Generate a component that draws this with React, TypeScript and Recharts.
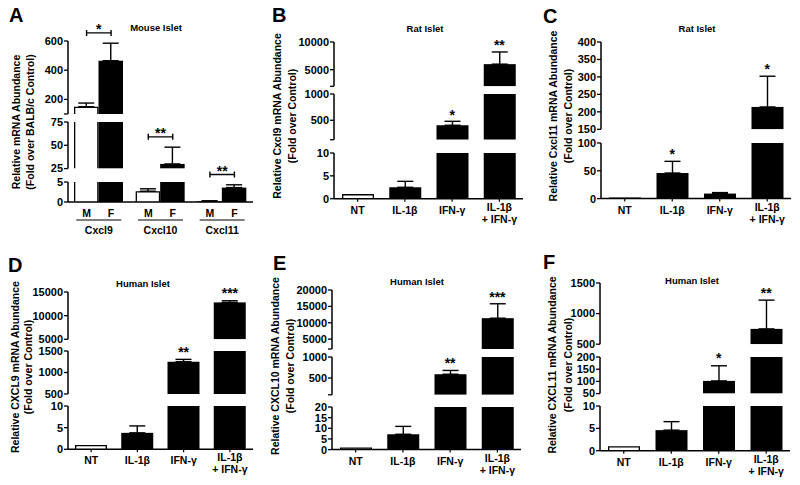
import React from 'react';
import { BarChart, Bar, XAxis, YAxis, ErrorBar } from 'recharts';

const FONT = '"Liberation Sans", Arial, Helvetica, sans-serif';

// ---- data ----
const mouseGenes = ['Cxcl9', 'Cxcl10', 'Cxcl11'];
const mouseMale = [150, 2.7, 0.2];
const mouseMaleErr = [25, 0.6, 0.1];
const mouseFemale = [465, 30, 3.6];
const mouseFemaleErr = [120, 18, 0.7];
const mouseStars = ['*', '**', '**'];

const treatments = ['NT', 'IL-1β', 'IFN-γ', 'IL-1β\n+ IFN-γ'];

const ratCxcl9 = [1, 2.5, 405, 6000];
const ratCxcl9Err = [0, 1.3, 75, 2200];
const ratCxcl9Stars = ['', '', '*', '**'];

const ratCxcl11 = [2, 46, 9, 214];
const ratCxcl11Err = [0, 21, 1.8, 88];
const ratCxcl11Stars = ['', '*', '', '*'];

const humanCxcl9 = [1, 3.8, 1250, 12800];
const humanCxcl9Err = [0, 1.6, 55, 350];
const humanCxcl9Stars = ['', '', '**', '***'];

const humanCxcl10 = [1, 7.2, 590, 11400];
const humanCxcl10Err = [0, 3.7, 90, 4400];
const humanCxcl10Stars = ['', '', '**', '***'];

const humanCxcl11 = [1, 4.6, 102, 750];
const humanCxcl11Err = [0, 1.9, 62, 470];
const humanCxcl11Stars = ['', '', '*', '**'];

// ---- broken-axis segments (domain, tick values, labelled ticks, pixel range) ----
type Seg = { domain: [number, number]; ticks: number[]; labels: number[]; top: number; bottom: number };

const segsA: Seg[] = [
  { domain: [100, 600], ticks: [100, 200, 400, 600], labels: [200, 400, 600], top: 40.7, bottom: 113.7 },
  { domain: [25, 75], ticks: [25, 50, 75], labels: [25, 50, 75], top: 121.7, bottom: 168.3 },
  { domain: [0, 5], ticks: [0, 5], labels: [0, 5], top: 181.7, bottom: 201.7 },
];
const segsB: Seg[] = [
  { domain: [2000, 10000], ticks: [2000, 5000, 10000], labels: [5000, 10000], top: 41.7, bottom: 86 },
  { domain: [130, 1000], ticks: [130, 500, 1000], labels: [500, 1000], top: 94.3, bottom: 140 },
  { domain: [0, 10], ticks: [0, 5, 10], labels: [0, 5, 10], top: 153.3, bottom: 199 },
];
const segsC: Seg[] = [
  { domain: [150, 400], ticks: [150, 200, 250, 300, 350, 400], labels: [150, 200, 250, 300, 350, 400], top: 41.7, bottom: 129 },
  { domain: [0, 100], ticks: [0, 50, 100], labels: [0, 50, 100], top: 142.7, bottom: 198.3 },
];
const segsD: Seg[] = [
  { domain: [5000, 15000], ticks: [5000, 10000, 15000], labels: [5000, 10000, 15000], top: 291.7, bottom: 339 },
  { domain: [500, 1500], ticks: [500, 1000, 1500], labels: [500, 1000, 1500], top: 351, bottom: 394 },
  { domain: [0, 10], ticks: [0, 5, 10], labels: [0, 5, 10], top: 406, bottom: 449.3 },
];
const segsE: Seg[] = [
  { domain: [2000, 20000], ticks: [2000, 5000, 10000, 15000, 20000], labels: [5000, 10000, 15000, 20000], top: 290, bottom: 349 },
  { domain: [100, 1000], ticks: [100, 500, 1000], labels: [500, 1000], top: 356.7, bottom: 394.5 },
  { domain: [0, 20], ticks: [0, 5, 10, 15, 20], labels: [0, 5, 10, 15, 20], top: 406.7, bottom: 449.3 },
];
const segsF: Seg[] = [
  { domain: [500, 1500], ticks: [500, 1000, 1500], labels: [500, 1000, 1500], top: 283.3, bottom: 344.5 },
  { domain: [50, 200], ticks: [50, 100, 150, 200], labels: [50, 100, 150, 200], top: 356.7, bottom: 393.3 },
  { domain: [0, 10], ticks: [0, 5, 10], labels: [0, 5, 10], top: 406, bottom: 450.7 },
];

type Series = { key: string; values: number[]; errors: number[]; outlined: (i: number) => boolean };

interface Panel {
  letter: string;
  letterPos: [number, number];
  title: string;
  titlePos: [number, number];
  ylabel: [string, string];
  ylabelX: [number, number];
  ylabelY: number;
  axisX: number;
  right: number;
  segs: Seg[];
  cats: string[];
  series: Series[];
  barSize: number;
  stars: string[];
}

const treatSeries = (values: number[], errors: number[]): Series[] => [
  { key: 'v', values, errors, outlined: (i) => i === 0 },
];

const panelA: Panel = {
  letter: 'A', letterPos: [9, 22], title: 'Mouse Islet', titlePos: [156, 30.5],
  ylabel: ['Relative mRNA Abundance', '(Fold over BALB/c Control)'], ylabelX: [19.5, 34], ylabelY: 122,
  axisX: 68, right: 253, segs: segsA, cats: mouseGenes, barSize: 24.5, stars: mouseStars,
  series: [
    { key: 'm', values: mouseMale, errors: mouseMaleErr, outlined: () => true },
    { key: 'f', values: mouseFemale, errors: mouseFemaleErr, outlined: () => false },
  ],
};

const treatPanels: Panel[] = [
  {
    letter: 'B', letterPos: [272, 22], title: 'Rat Islet', titlePos: [425, 31.5],
    ylabel: ['Relative Cxcl9 mRNA Abundance', '(Fold over Control)'], ylabelX: [280.5, 295.5], ylabelY: 116,
    axisX: 334, right: 523, segs: segsB, cats: treatments, barSize: 32, stars: ratCxcl9Stars,
    series: treatSeries(ratCxcl9, ratCxcl9Err),
  },
  {
    letter: 'C', letterPos: [543, 22.5], title: 'Rat Islet', titlePos: [697, 31.5],
    ylabel: ['Relative Cxcl11 mRNA Abundance', '(Fold over Control)'], ylabelX: [556.5, 571.5], ylabelY: 116,
    axisX: 601, right: 791, segs: segsC, cats: treatments, barSize: 32, stars: ratCxcl11Stars,
    series: treatSeries(ratCxcl11, ratCxcl11Err),
  },
  {
    letter: 'D', letterPos: [8, 271.5], title: 'Human Islet', titlePos: [143, 286.5],
    ylabel: ['Relative CXCL9 mRNA Abundance', '(Fold over Control)'], ylabelX: [18.5, 32], ylabelY: 367,
    axisX: 68, right: 253, segs: segsD, cats: treatments, barSize: 32, stars: humanCxcl9Stars,
    series: treatSeries(humanCxcl9, humanCxcl9Err),
  },
  {
    letter: 'E', letterPos: [273, 269.5], title: 'Human Islet', titlePos: [417, 285],
    ylabel: ['Relative CXCL10 mRNA Abundance', '(Fold over Control)'], ylabelX: [278.5, 293.5], ylabelY: 366,
    axisX: 332, right: 521, segs: segsE, cats: treatments, barSize: 32, stars: humanCxcl10Stars,
    series: treatSeries(humanCxcl10, humanCxcl10Err),
  },
  {
    letter: 'F', letterPos: [543, 268.5], title: 'Human Islet', titlePos: [692, 283.5],
    ylabel: ['Relative CXCL11 mRNA Abundance', '(Fold over Control)'], ylabelX: [555.5, 572], ylabelY: 365,
    axisX: 600, right: 790, segs: segsF, cats: treatments, barSize: 32, stars: humanCxcl11Stars,
    series: treatSeries(humanCxcl11, humanCxcl11Err),
  },
];

// ---- helpers ----
const MT = 8;
const YW = 44;

function buildRows(cats: string[], series: Series[], seg: Seg) {
  return cats.map((name, i) => {
    const row: Record<string, unknown> = { name };
    for (const s of series) {
      const v = s.values[i];
      const e = s.errors[i];
      const shown = v > seg.domain[0];
      row[s.key] = shown ? v : null;
      row[s.key + 'Err'] = shown && v <= seg.domain[1] && e > 0 ? [0, e] : undefined;
    }
    return row;
  });
}

function yOf(segs: Seg[], v: number) {
  const s = segs.find((g) => v >= g.domain[0] && v <= g.domain[1]) ?? segs[0];
  return s.bottom - ((v - s.domain[0]) / (s.domain[1] - s.domain[0])) * (s.bottom - s.top);
}

function SegBar(props: any) {
  const { x, y, width, height, payload, valueKey, outlined, plotTop, plotBottom } = props;
  if (!payload || payload[valueKey] == null || width == null) return <g />;
  let top = Math.min(y, y + height);
  let bot = Math.max(y, y + height);
  const topCut = top < plotTop;
  top = Math.max(top, plotTop);
  bot = Math.min(bot, plotBottom);
  if (bot - top <= 0) return <g />;
  if (!outlined) return <rect x={x} y={top} width={width} height={bot - top} fill="#000" />;
  const sw = 1.3;
  const l = x + sw / 2;
  const r = x + width - sw / 2;
  const d = topCut
    ? `M${l},${bot} V${top} M${r},${bot} V${top}`
    : `M${l},${bot} V${top + sw / 2} H${r} V${bot}`;
  return (
    <g>
      <rect x={x} y={top} width={width} height={bot - top} fill="#fff" />
      <path d={d} fill="none" stroke="#000" strokeWidth={sw} />
    </g>
  );
}

function TreatmentTick({ x, y, payload }: any) {
  const lines = String(payload.value).split('\n');
  return (
    <text x={x} y={y} textAnchor="middle" fontSize={10.5} fontWeight={700} fontFamily={FONT} fill="#000">
      {lines.map((t, i) => (
        <tspan key={i} x={x} dy={i === 0 ? (lines.length > 1 ? 7 : 10) : 12}>
          {t}
        </tspan>
      ))}
    </text>
  );
}

function GeneTick({ x, y, payload }: any) {
  const half = panelA.barSize / 2;
  const style = { fontSize: 10.5, fontWeight: 700, fontFamily: FONT, fill: '#000' } as const;
  return (
    <g>
      <text x={x - half} y={y + 14.5} textAnchor="middle" {...style}>M</text>
      <text x={x + half} y={y + 14.5} textAnchor="middle" {...style}>F</text>
      <line x1={x - 22.5} x2={x + 22.5} y1={y + 18} y2={y + 18} stroke="#000" strokeWidth={1.2} />
      <text x={x} y={y + 31.5} textAnchor="middle" {...style}>{payload.value}</text>
    </g>
  );
}

function SegmentChart({ panel, seg, isBottom }: { panel: Panel; seg: Seg; isBottom: boolean }) {
  const left = panel.axisX - YW;
  const plotH = seg.bottom - seg.top;
  const xh = isBottom ? 44 : 0;
  const mb = isBottom ? 0 : 8;
  const rows = buildRows(panel.cats, panel.series, seg);
  const isGene = panel === panelA;
  return (
    <div style={{ position: 'absolute', left, top: seg.top - MT }}>
      <BarChart
        width={panel.right - left}
        height={plotH + MT + mb + xh}
        data={rows}
        margin={{ top: MT, right: 0, bottom: mb, left: 0 }}
        barGap={0}
        style={{ overflow: 'visible' }}
      >
        <XAxis
          dataKey="name"
          hide={!isBottom}
          height={xh || 1}
          interval={0}
          axisLine={{ stroke: '#000', strokeWidth: 1.5 }}
          tickLine={isGene ? false : { stroke: '#000', strokeWidth: 1.2 }}
          tickSize={isGene ? 0 : 3}
          tickMargin={isGene ? 0 : 2}
          tick={isGene ? <GeneTick /> : <TreatmentTick />}
        />
        <YAxis
          type="number"
          domain={seg.domain}
          ticks={seg.ticks}
          interval={0}
          allowDataOverflow
          width={YW}
          axisLine={{ stroke: '#000', strokeWidth: 1.5 }}
          tickLine={{ stroke: '#000', strokeWidth: 1.3 }}
          tickSize={4}
          tickMargin={1}
          tick={{ fill: '#000', fontSize: 11, fontWeight: 700, fontFamily: FONT }}
          tickFormatter={(v: number) => (seg.labels.includes(v) ? String(v) : '')}
        />
        {panel.series.map((s) => (
          <Bar
            key={s.key}
            dataKey={s.key}
            barSize={panel.barSize}
            isAnimationActive={false}
            fill="#000"
            shape={(p: any) => (
              <SegBar
                {...p}
                valueKey={s.key}
                outlined={s.outlined(panel.cats.indexOf(p.payload?.name))}
                plotTop={MT}
                plotBottom={MT + plotH}
              />
            )}
          >
            <ErrorBar dataKey={s.key + 'Err'} width={8} stroke="#000" strokeWidth={1.4} direction="y" />
          </Bar>
        ))}
      </BarChart>
    </div>
  );
}

function PanelCharts({ panel }: { panel: Panel }) {
  return (
    <>
      {panel.segs.map((seg, i) => (
        <SegmentChart key={i} panel={panel} seg={seg} isBottom={i === panel.segs.length - 1} />
      ))}
    </>
  );
}

function PanelText({ panel }: { panel: Panel }) {
  const [lx, ly] = panel.letterPos;
  const [tx, ty] = panel.titlePos;
  return (
    <g fontFamily={FONT} fill="#000">
      <text x={lx} y={ly} fontSize={20} fontWeight={700}>{panel.letter}</text>
      <text x={tx} y={ty} fontSize={9.5} fontWeight={700} textAnchor="middle">{panel.title}</text>
      {panel.ylabel.map((t, i) => (
        <text
          key={i}
          x={panel.ylabelX[i]}
          y={panel.ylabelY}
          fontSize={10.5}
          fontWeight={700}
          textAnchor="middle"
          transform={`rotate(-90 ${panel.ylabelX[i]} ${panel.ylabelY})`}
        >
          {t}
        </text>
      ))}
    </g>
  );
}

function TreatmentStars({ panel }: { panel: Panel }) {
  const band = (panel.right - panel.axisX) / panel.cats.length;
  const s = panel.series[0];
  return (
    <g>
      {panel.stars.map((st, i) =>
        st ? (
          <text
            key={i}
            x={panel.axisX + band * (i + 0.5)}
            y={yOf(panel.segs, s.values[i] + s.errors[i]) - 2}
            textAnchor="middle"
            fontSize={14}
            fontWeight={700}
            fontFamily={FONT}
            fill="#000"
          >
            {st}
          </text>
        ) : null,
      )}
    </g>
  );
}

function MouseBrackets() {
  const p = panelA;
  const band = (p.right - p.axisX) / p.cats.length;
  const half = p.barSize / 2;
  return (
    <g>
      {p.stars.map((st, i) => {
        const cx = p.axisX + band * (i + 0.5);
        const yTop = Math.min(
          ...p.series.map((s) => yOf(p.segs, s.values[i] + s.errors[i])),
        );
        const by = yTop - 10;
        return (
          <g key={i}>
            <path
              d={`M${cx - half},${by - 3} V${by + 3} M${cx - half},${by} H${cx + half} M${cx + half},${by - 3} V${by + 3}`}
              stroke="#000"
              strokeWidth={1.4}
              fill="none"
            />
            <text x={cx} y={by + 1} textAnchor="middle" fontSize={14} fontWeight={700} fontFamily={FONT} fill="#000">
              {st}
            </text>
          </g>
        );
      })}
    </g>
  );
}

export default function App() {
  return (
    <div style={{ position: 'absolute', left: 0, top: 0, width: 800, height: 485, background: '#fff', overflow: 'hidden' }}>
      <PanelCharts panel={panelA} />
      {treatPanels.map((p) => (
        <PanelCharts key={p.letter} panel={p} />
      ))}
      <svg width={800} height={485} style={{ position: 'absolute', left: 0, top: 0, pointerEvents: 'none' }}>
        <PanelText panel={panelA} />
        <MouseBrackets />
        {treatPanels.map((p) => (
          <g key={p.letter}>
            <PanelText panel={p} />
            <TreatmentStars panel={p} />
          </g>
        ))}
      </svg>
    </div>
  );
}
